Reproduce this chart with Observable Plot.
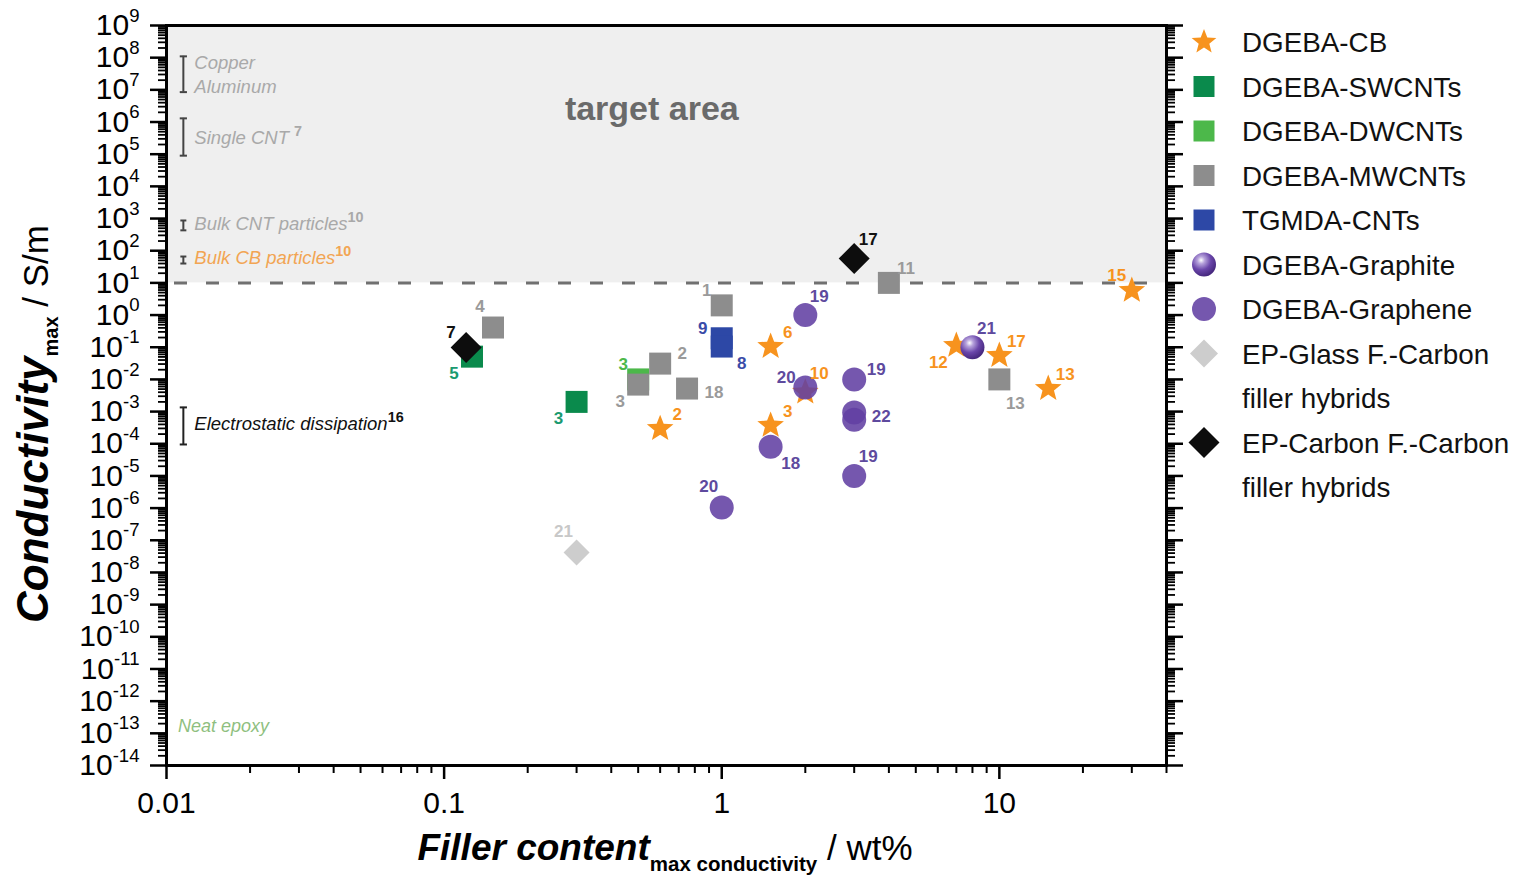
<!DOCTYPE html>
<html><head><meta charset="utf-8">
<script src="https://cdn.jsdelivr.net/npm/d3@7"></script>
<script src="https://cdn.jsdelivr.net/npm/@observablehq/plot@0.6"></script>
<style>
body{margin:0;background:#fff;font-family:"Liberation Sans",Arial,Helvetica,sans-serif;}
#wrap{position:relative;width:1523px;height:880px;overflow:hidden;}
#legend{position:absolute;left:1186px;top:0;}
</style></head><body><div id="wrap"></div>
<script>
// ---------- scales / reference values ----------
const xDomain = [0.01, 40];
const yDomain = [1e-14, 1e9];
const targetBand = [10, 1e9];
const thresholdY = 10;
const xMajor = [0.01, 0.1, 1, 10];
const xMinor = [2,3,4,5,6,7,8,9].flatMap(k => [k*0.01, k*0.1, k]).concat([20, 30, 40]);
const yExp = d3.range(-14, 10);
const yMajor = yExp.map(e => +("1e" + e));
const yMinor = d3.range(-14, 9).flatMap(e => [2,3,4,5,6,7,8,9].map(k => +(k + "e" + e)));

// ---------- data (filler content wt%, conductivity S/m, reference no.) ----------
const cbX = [30, 7, 10, 15, 1.5, 2, 1.5, 0.6];
const cbY = [5.8, 0.113, 0.055, 0.0052, 0.105, 0.004, 3.7e-4, 2.95e-4];
const cbRef = ["15","12","17","13","6","10","3","2"];
const cbPlace = ["nw","sw","ne","ne","ne","nne","ne","ne"];

const swX = [0.126, 0.3];
const swY = [0.051, 0.002];
const swRef = ["5","3"];
const swPlace = ["sw","sw"];

const dwX = [0.5];
const dwY = [0.01];
const dwRef = ["3"];
const dwPlace = ["nw"];

const mwX = [0.15, 1, 4, 0.6, 0.5, 0.75, 10];
const mwY = [0.41, 2.0, 10, 0.031, 0.0069, 0.0052, 0.01];
const mwRef = ["4","1","11","2","3","18","13"];
const mwPlace = ["nnw","nw","ne","e","sw","ee","sse"];

const tgX = [1, 1];
const tgY = [0.19, 0.105];
const tgRef = ["9","8"];
const tgPlace = ["w","se"];

const gtX = [8];
const gtY = [0.1];
const gtRef = ["21"];
const gtPlace = ["nne"];

const gnX = [2, 2, 3, 3, 3, 1.5, 3, 1];
const gnY = [1, 0.0056, 0.01, 9.4e-4, 5.6e-4, 8.1e-5, 1.0e-5, 1.05e-6];
const gnRef = ["19","20","19","22","","18","19","20"];
const gnPlace = ["nne","w","e","ee","","se","nne","nnw"];

const glX = [0.3];
const glY = [4.2e-8];
const glRef = ["21"];
const glPlace = ["nnw"];

const cfX = [0.12, 3];
const cfY = [0.098, 57];
const cfRef = ["7","17"];
const cfPlace = ["nw","nne"];

// reference ranges (conductivity) drawn as brackets
const bracketLo = [8.5e6, 9e4, 4.3e2, 40, 9.5e-5];
const bracketHi = [1.1e8, 1.3e6, 8.7e2, 66, 1.35e-3];
const annY = [6.6e7, 1.26e7, 3.1e5, 6.5e2, 58, 4e-4];
const annText = ["Copper", "Aluminum", "Single CNT ^^{7}", "Bulk CNT particles^^{10}", "Bulk CB particles^^{10}", "Electrostatic dissipation^^{16}"];
const annXpos = 0.0115;
const neatX = 0.011, neatY = 1.7e-13;
const targetX = 0.56, targetY = 2.6e6;

// ---------- symbols ----------
const symSquare = {draw(c, s){const h=Math.sqrt(s/Math.PI); c.moveTo(-h,-h); c.lineTo(h,-h); c.lineTo(h,h); c.lineTo(-h,h); c.closePath();}};
const symDiamond = {draw(c, s){const h=Math.sqrt(s/Math.PI); c.moveTo(0,-h); c.lineTo(h,0); c.lineTo(0,h); c.lineTo(-h,0); c.closePath();}};
const symStar = {draw(c, s){const R=Math.sqrt(s/Math.PI), q=R*0.43; for(let i=0;i<10;i++){const a=-Math.PI/2+i*Math.PI/5, rr=i%2?q:R; const x=rr*Math.cos(a), y=rr*Math.sin(a); i?c.lineTo(x,y):c.moveTo(x,y);} c.closePath();}};
const symCircle = {draw(c, s){const r=Math.sqrt(s/Math.PI); c.moveTo(r,0); c.arc(0,0,r,0,2*Math.PI); c.closePath();}};
const symHLine = {draw(c, s){const h=Math.sqrt(s/Math.PI); c.moveTo(-h,0); c.lineTo(h,0);}};

const font = '"Liberation Sans", Arial, Helvetica, sans-serif';
const series = {
  cb: {name:["DGEBA-CB"], x:cbX, y:cbY, ref:cbRef, place:cbPlace, sym:symStar, r:14, fill:"#f7931e", lab:"#f7931e", lr:13},
  sw: {name:["DGEBA-SWCNTs"], x:swX, y:swY, ref:swRef, place:swPlace, sym:symSquare, r:11, fill:"#0a8a4c", lab:"#1a9a70", lr:10.5},
  dw: {name:["DGEBA-DWCNTs"], x:dwX, y:dwY, ref:dwRef, place:dwPlace, sym:symSquare, r:11, fill:"#4cb84a", lab:"#4cb84a", lr:10.5},
  mw: {name:["DGEBA-MWCNTs"], x:mwX, y:mwY, ref:mwRef, place:mwPlace, sym:symSquare, r:11, fill:"#8d8d8d", lab:"#9a9a9a", lr:10.5},
  tg: {name:["TGMDA-CNTs"], x:tgX, y:tgY, ref:tgRef, place:tgPlace, sym:symSquare, r:11, fill:"#2d48a6", lab:"#3a4ca8", lr:10.5},
  gt: {name:["DGEBA-Graphite"], x:gtX, y:gtY, ref:gtRef, place:gtPlace, sym:symCircle, r:12, fill:"url(#sphere)", lab:"#5e4a9e", lr:12},
  gn: {name:["DGEBA-Graphene"], x:gnX, y:gnY, ref:gnRef, place:gnPlace, sym:symCircle, r:12, fill:"#6240a3", op:0.88, lab:"#5e4a9e", lr:12},
  gl: {name:["EP-Glass F.-Carbon","filler hybrids"], x:glX, y:glY, ref:glRef, place:glPlace, sym:symDiamond, r:13, fill:"#cdcdcd", lab:"#c8c8c8", lr:14},
  cf: {name:["EP-Carbon F.-Carbon","filler hybrids"], x:cfX, y:cfY, ref:cfRef, place:cfPlace, sym:symDiamond, r:15.5, fill:"#0d0d0d", lab:"#111", lr:15.5}
};
const legendOrder = ["cb","sw","dw","mw","tg","gt","gn","gl","cf"];
const drawOrder = ["dw","sw","mw","tg","cb","gn","gt","gl","cf"];
const placeOffsets = {ne:[17,-14], nne:[14,-19], nw:[-15,-15], nnw:[-13,-21], sw:[-18,17], se:[20,17], sse:[16,24], e:[22,-10], ee:[27,4], w:[-19,-10]};

const pointMarks = [], labelMarks = [];
for (const k of drawOrder) {
  const s = series[k];
  const pts = s.x.map((x, i) => ({x, y: s.y[i], ref: s.ref[i], place: s.place[i]}));
  pointMarks.push(Plot.dot(pts, {x:"x", y:"y", symbol: s.sym, r: s.r, fill: s.fill, fillOpacity: s.op ?? 1, stroke: "none"}));
  for (const p of Object.keys(placeOffsets)) {
    const sub = pts.filter(d => d.place === p && d.ref);
    if (!sub.length) continue;
    const [dx, dy] = placeOffsets[p];
    labelMarks.push(Plot.text(sub, {x:"x", y:"y", text:"ref", dx, dy, fill: s.lab, fontSize: 17, fontWeight: "bold", fontFamily: font}));
  }
}

const brackets = bracketLo.map((lo, i) => ({x: annXpos, lo, hi: bracketHi[i], w: bracketHi[i]/lo > 5 ? 6.5 : 4.5, c: i === 4 ? "#222" : "#444"}));
const serifs = brackets.flatMap(b => [{x:b.x, y:b.lo, w:b.w, c:b.c}, {x:b.x, y:b.hi, w:b.w, c:b.c}]);
const annColors = ["#a9a9a9","#a9a9a9","#a9a9a9","#a9a9a9","#f2a553","#111"];
const anns = annY.map((y, i) => ({x: annXpos, y, t: annText[i], c: annColors[i]}));

const svg = Plot.plot({
  width: 1186, height: 880,
  marginLeft: 166, marginRight: 20, marginTop: 25, marginBottom: 115,
  style: {fontFamily: font, fontSize: "30px", color: "#000", background: "transparent", overflow: "visible"},
  x: {type: "log", domain: xDomain, label: null},
  y: {type: "log", domain: yDomain, label: null},
  marks: [
    Plot.rect([0], {x1: () => xDomain[0], x2: () => xDomain[1], y1: () => targetBand[0], y2: () => targetBand[1], fill: "#efefef"}),
    Plot.ruleY([thresholdY], {stroke: "#707070", strokeWidth: 3, strokeDasharray: "13,19", strokeDashoffset: -8}),
    Plot.text([0], {x: () => targetX, y: () => targetY, text: () => "target area", fontSize: 34, fontWeight: "bold", fill: "#6a6a6a", fontFamily: font}),
    Plot.ruleX(brackets, {x: "x", y1: "lo", y2: "hi", stroke: "c", strokeWidth: 2}),
    Plot.dot(serifs, {x: "x", y: "y", symbol: symHLine, r: "w", stroke: "c", strokeWidth: 2}),
    Plot.text(anns, {x: "x", y: "y", text: "t", fill: "c", dx: 11, textAnchor: "start", fontSize: 18.5, fontStyle: "italic", fontFamily: font}),
    Plot.text([0], {x: () => neatX, y: () => neatY, text: () => "Neat epoxy", fill: "#8fbf80", textAnchor: "start", fontSize: 18, fontStyle: "italic", fontFamily: font}),
    ...pointMarks,
    ...labelMarks,
    Plot.axisY({anchor: "left", ticks: yMajor, tickSize: 16, tickPadding: 11, strokeWidth: 2.5, tickFormat: d => `10^{${Math.round(Math.log10(d))}}`, label: null}),
    Plot.axisY({anchor: "left", ticks: yMinor, tickSize: 8, strokeWidth: 1.8, tickFormat: () => "", label: null}),
    Plot.axisY({anchor: "right", ticks: yMajor, tickSize: 16, strokeWidth: 2.5, tickFormat: () => "", label: null}),
    Plot.axisY({anchor: "right", ticks: yMinor, tickSize: 8, strokeWidth: 1.8, tickFormat: () => "", label: null}),
    Plot.axisX({anchor: "bottom", ticks: xMajor, tickSize: 14, tickPadding: 12, strokeWidth: 2.5, tickFormat: d => String(d), label: null}),
    Plot.axisX({anchor: "bottom", ticks: xMinor, tickSize: 8, strokeWidth: 2, tickFormat: () => "", label: null}),
    Plot.frame({stroke: "#000", strokeWidth: 3})
  ],
  color: {type: "identity"}
});
document.getElementById("wrap").appendChild(svg);

const NS = "http://www.w3.org/2000/svg";
// gradient for graphite spheres
function addSphereDefs(root, id) {
  const defs = d3.select(root).insert("defs", ":first-child");
  const g = defs.append("radialGradient").attr("id", id).attr("cx", "0.38").attr("cy", "0.32").attr("r", "0.68");
  g.append("stop").attr("offset", "0").attr("stop-color", "#ffffff");
  g.append("stop").attr("offset", "0.22").attr("stop-color", "#b7a3dc");
  g.append("stop").attr("offset", "0.6").attr("stop-color", "#6a46aa");
  g.append("stop").attr("offset", "1").attr("stop-color", "#46287e");
}
addSphereDefs(svg, "sphere");

// rich text: ^{..} superscript, ^^{..} bold superscript
function richText(root) {
  root.querySelectorAll("text").forEach(t => {
    const s = t.textContent;
    if (!/\^\{|\^\^\{/.test(s)) return;
    const fs = parseFloat(getComputedStyle(t).fontSize) || 16;
    const re = /(\^\^|\^)\{([^}]*)\}/g;
    const parts = []; let last = 0, m;
    while ((m = re.exec(s))) {
      if (m.index > last) parts.push({t: s.slice(last, m.index), k: ""});
      parts.push({t: m[2], k: m[1]});
      last = re.lastIndex;
    }
    if (last < s.length) parts.push({t: s.slice(last), k: ""});
    t.textContent = "";
    let shift = 0;
    for (const p of parts) {
      const ts = document.createElementNS(NS, "tspan");
      ts.textContent = p.t;
      const target = p.k ? -fs * 0.45 : 0;
      const dy = target - shift; shift = target;
      if (dy) ts.setAttribute("dy", dy.toFixed(2));
      if (p.k) {
        ts.setAttribute("font-size", (fs * (p.k === "^^" ? 0.78 : 0.62)).toFixed(1));
        if (p.k === "^^") { ts.setAttribute("font-weight", "bold"); ts.setAttribute("font-style", "normal"); }
      }
      t.appendChild(ts);
    }
  });
}
richText(svg);

// axis titles
const S = d3.select(svg);
const yt = S.append("text").attr("transform", "translate(48,424) rotate(-90)").attr("text-anchor", "middle").attr("fill", "#000");
yt.append("tspan").text("Conductivity").attr("font-size", 44).attr("font-weight", "bold").attr("font-style", "italic");
yt.append("tspan").text("max").attr("font-size", 20).attr("font-weight", "bold").attr("dy", 10);
yt.append("tspan").text(" / S/m").attr("font-size", 35).attr("dy", -10);
const xt = S.append("text").attr("x", 665).attr("y", 860).attr("text-anchor", "middle").attr("fill", "#000");
xt.append("tspan").text("Filler content").attr("font-size", 37).attr("font-weight", "bold").attr("font-style", "italic");
xt.append("tspan").text("max conductivity").attr("font-size", 20.5).attr("font-weight", "bold").attr("dy", 11);
xt.append("tspan").text(" / wt%").attr("font-size", 35).attr("dy", -11);

// legend
const L = d3.select("#wrap").append("svg").attr("id", "legend").attr("width", 337).attr("height", 520)
  .style("font-family", font);
addSphereDefs(L.node(), "sphereL");
let row = 0;
for (const k of legendOrder) {
  const s = series[k];
  const cy = 42 + row * 44.5;
  L.append("path").attr("transform", `translate(18,${cy})`)
    .attr("d", d3.symbol(s.sym, Math.PI * s.lr * s.lr)())
    .attr("fill", s.fill === "url(#sphere)" ? "url(#sphereL)" : s.fill)
    .attr("fill-opacity", s.op ?? 1);
  s.name.forEach((line, j) => {
    L.append("text").attr("x", 56).attr("y", cy + j * 44.5).attr("dy", "0.36em")
      .attr("font-size", 27.8).attr("fill", "#111").text(line);
  });
  row += s.name.length;
}
</script></body></html>
